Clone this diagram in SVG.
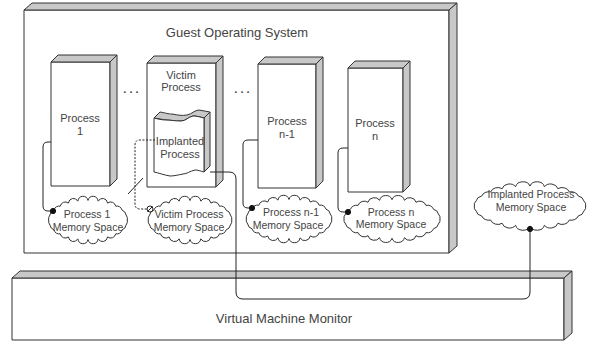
<svg xmlns="http://www.w3.org/2000/svg" xmlns:xlink="http://www.w3.org/1999/xlink" width="592" height="343" viewBox="0 0 592 343">
<style>
.f{fill:#fff;stroke:#333;stroke-width:1;stroke-linejoin:round}
.s{fill:#c8c8c8;stroke:#333;stroke-width:1;stroke-linejoin:round}
.t{font-family:"Liberation Sans",Arial,sans-serif;font-size:11px;fill:#444;text-anchor:middle}
.c{font-size:10.5px}
.big{font-size:13px}
.ln{fill:none;stroke:#222;stroke-width:1}
.dot{fill:#111;stroke:#111}
</style>
<defs>
<path id="cloud" vector-effect="non-scaling-stroke" fill="#fff" stroke="#333" stroke-width="1" d="M48,0 A6.4,6.4 0 0 1 46.4,5.4 A6.4,6.4 0 0 1 41.6,10.5 A6.4,6.4 0 0 1 33.9,14.8 A6.4,6.4 0 0 1 24,18.2 A6.4,6.4 0 0 1 12.4,20.3 A6.4,6.4 0 0 1 0,21 A6.4,6.4 0 0 1 -12.4,20.3 A6.4,6.4 0 0 1 -24,18.2 A6.4,6.4 0 0 1 -33.9,14.8 A6.4,6.4 0 0 1 -41.6,10.5 A6.4,6.4 0 0 1 -46.4,5.4 A6.4,6.4 0 0 1 -48,0 A6.4,6.4 0 0 1 -46.4,-5.4 A6.4,6.4 0 0 1 -41.6,-10.5 A6.4,6.4 0 0 1 -33.9,-14.8 A6.4,6.4 0 0 1 -24,-18.2 A6.4,6.4 0 0 1 -12.4,-20.3 A6.4,6.4 0 0 1 0,-21 A6.4,6.4 0 0 1 12.4,-20.3 A6.4,6.4 0 0 1 24,-18.2 A6.4,6.4 0 0 1 33.9,-14.8 A6.4,6.4 0 0 1 41.6,-10.5 A6.4,6.4 0 0 1 46.4,-5.4 A6.4,6.4 0 0 1 48,0 Z"/>
</defs>

<g id="guest-os">
<rect class="f" x="24" y="10" width="425" height="243"/>
<polygon class="s" points="24,10 32,3 457,3 449,10"/>
<polygon class="s" points="449,10 457,3 457,246 449,253"/>
<text class="t big" x="237" y="37">Guest Operating System</text>
</g>

<g id="vmm">
<rect class="f" x="12" y="278" width="552" height="62"/>
<polygon class="s" points="12,278 20,271 572,271 564,278"/>
<polygon class="s" points="564,278 572,271 572,333 564,340"/>
<text class="t big" x="284" y="323">Virtual Machine Monitor</text>
</g>

<g id="process-1">
<rect class="f" x="51" y="62" width="59" height="124"/>
<polygon class="s" points="51,62 58,55 117,55 110,62"/>
<polygon class="s" points="110,62 117,55 117,179 110,186"/>
<text class="t" x="80" y="122">Process</text>
<text class="t" x="80" y="135">1</text>
</g>

<g id="victim-process">
<rect class="f" x="147" y="63" width="69" height="124"/>
<polygon class="s" points="147,63 154,56 223,56 216,63"/>
<polygon class="s" points="216,63 223,56 223,180 216,187"/>
<text class="t" x="181" y="79">Victim</text>
<text class="t" x="181" y="91">Process</text>
</g>

<g id="implanted-process">
<path class="s" d="M154,118 L160,112 C166,113 168,114 172,114 C178,115 182,116 187,115 C192,114 195,110 199,110 L210,112 L204,118 C200,117 197,116 193,116 C188,117 186,121 181,121 C175,121 170,120 166,120 Z"/>
<polygon class="s" points="204,118 210,112 210,166 204,172"/>
<path class="f" d="M154,118 C158,119 162,120 166,120 C170,120 175,121 181,121 C186,121 188,117 193,116 C197,116 200,117 204,118 L204,172 C200,171 198,170 195,170 C190,171 187,174 183,174 C178,175 174,176 170,176 C164,175 159,173 154,172 Z"/>
<text class="t" x="180" y="145">Implanted</text>
<text class="t" x="180" y="158">Process</text>
</g>

<g id="process-n-1">
<rect class="f" x="258" y="64" width="58" height="124"/>
<polygon class="s" points="258,64 265,57 323,57 316,64"/>
<polygon class="s" points="316,64 323,57 323,181 316,188"/>
<text class="t" x="287" y="125">Process</text>
<text class="t" x="287" y="138">n-1</text>
</g>

<g id="process-n">
<rect class="f" x="348" y="68" width="55" height="124"/>
<polygon class="s" points="348,68 355,61 410,61 403,68"/>
<polygon class="s" points="403,68 410,61 410,185 403,192"/>
<text class="t" x="375" y="127">Process</text>
<text class="t" x="375" y="140">n</text>
</g>

<g id="ellipses">
<text class="t" x="131" y="93" font-weight="bold">. . .</text>
<text class="t" x="242" y="93" font-weight="bold">. . .</text>
</g>

<g id="mem-process-1">
<use xlink:href="#cloud" transform="translate(88,220) scale(0.82,0.93)"/>
<text class="t c" x="87" y="218">Process 1</text>
<text class="t c" x="88" y="231">Memory Space</text>
</g>

<g id="mem-victim">
<use xlink:href="#cloud" transform="translate(190,220) scale(0.87,0.93)"/>
<text class="t c" x="189" y="218">Victim Process</text>
<text class="t c" x="189" y="231">Memory Space</text>
</g>

<g id="mem-process-n-1">
<use xlink:href="#cloud" transform="translate(289,219) scale(0.89,0.93)"/>
<text class="t c" x="291" y="216">Process n-1</text>
<text class="t c" x="288" y="229">Memory Space</text>
</g>

<g id="mem-process-n">
<use xlink:href="#cloud" transform="translate(392,219) scale(1.0,0.92)"/>
<text class="t c" x="391" y="216">Process n</text>
<text class="t c" x="391" y="228">Memory Space</text>
</g>

<g id="mem-implanted">
<use xlink:href="#cloud" transform="translate(530,206) scale(1.16,0.95)"/>
<text class="t c" x="531" y="198">Implanted Process</text>
<text class="t c" x="531" y="211">Memory Space</text>
</g>

<g id="connectors">
<path class="ln" d="M51,142 H48 Q43,142 43,147 V206 Q43,211 48,211 H53"/>
<path class="ln" d="M155,140 H140 Q135,140 135,145 V204 Q135,209 140,209 H147" stroke-dasharray="2,1.5"/>
<line class="ln" x1="128" y1="194" x2="143" y2="178"/>
<path class="ln" d="M258,140 H248 Q243,140 243,145 V203 Q243,208 248,208 H252"/>
<path class="ln" d="M348,148 H343 Q338,148 338,153 V207 Q338,212 343,212 H348"/>
<path class="ln" d="M210,172 H229 Q236,172 236,179 V292 Q236,299 243,299 H523 Q530,299 530,292 V229"/>
<circle class="dot" cx="53" cy="211" r="2.6"/>
<circle cx="150" cy="209" r="3" fill="#fff" stroke="#222"/>
<line class="ln" x1="147.5" y1="211.5" x2="152.5" y2="206.5"/>
<circle class="dot" cx="252" cy="208" r="2.6"/>
<circle class="dot" cx="348" cy="212" r="2.6"/>
<circle class="dot" cx="530" cy="229" r="2.6"/>
</g>
</svg>
